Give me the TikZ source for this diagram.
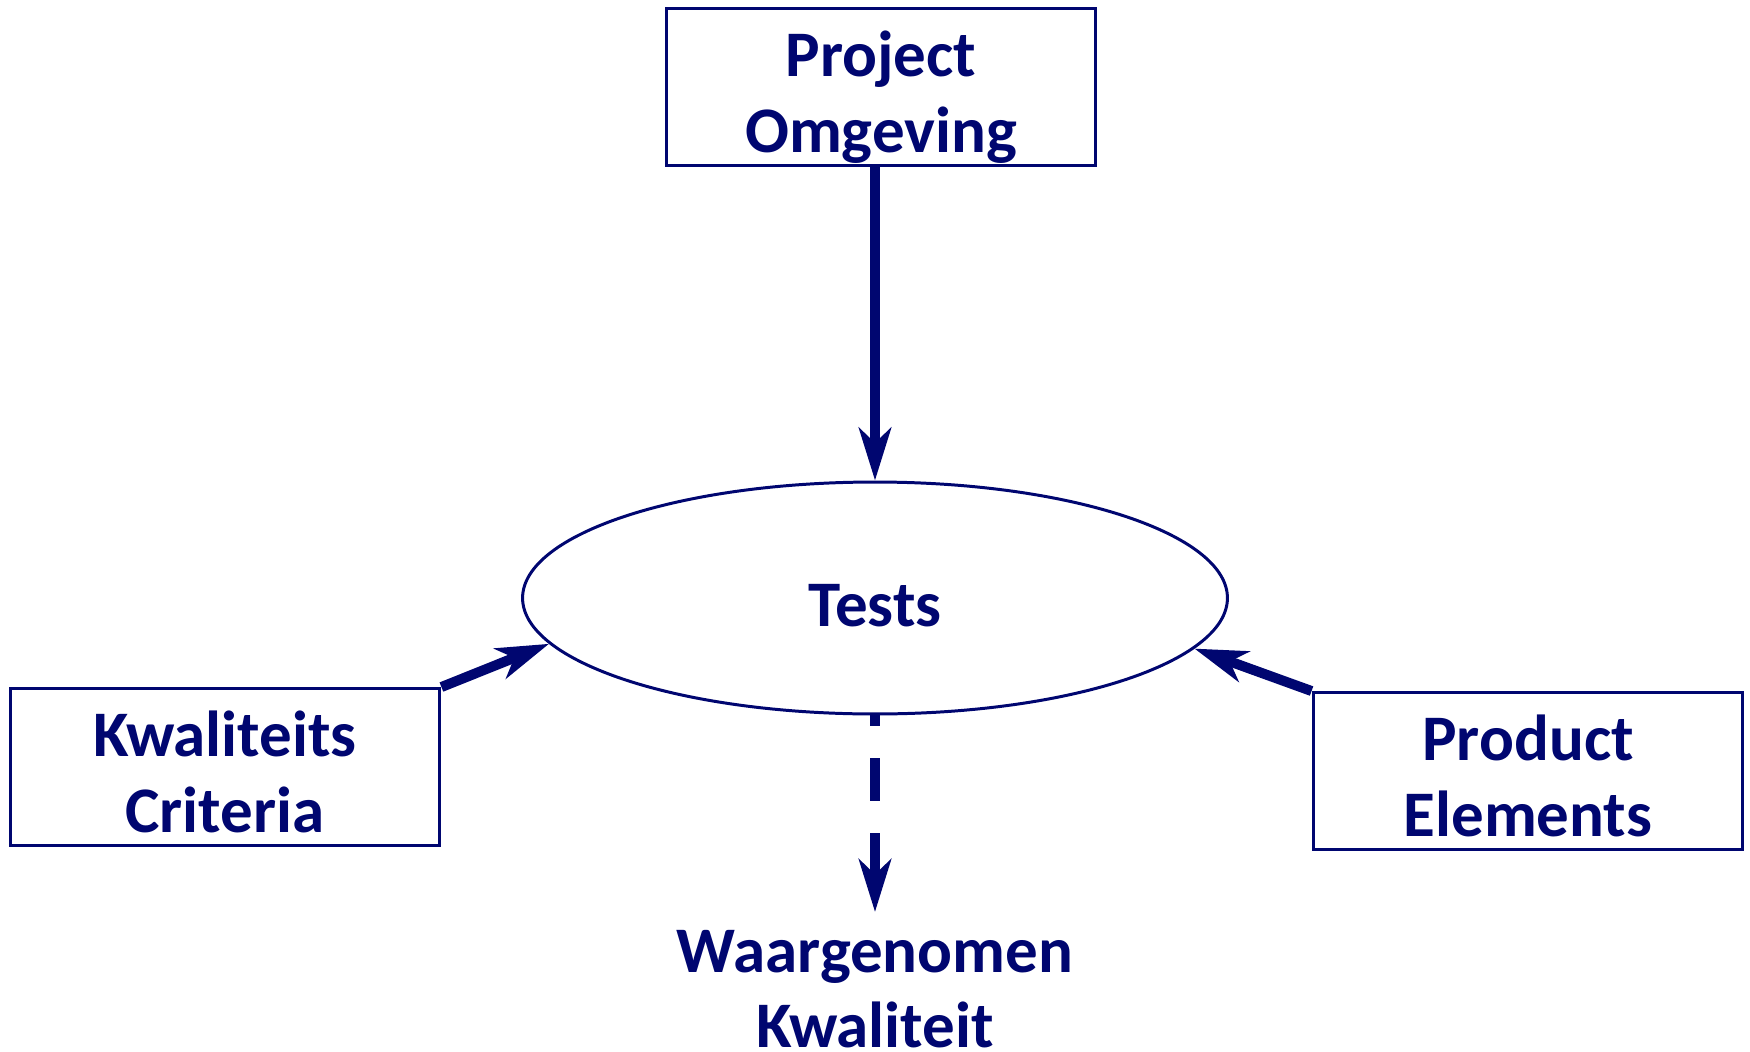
\documentclass[tikz,border=0pt]{standalone}
\usepackage{fontspec}
\setmainfont{Carlito}
\usetikzlibrary{shapes.geometric,arrows.meta}
\definecolor{navy}{RGB}{0,6,112}
\begin{document}
\begin{tikzpicture}[x=0.02cm, y=-0.02cm,
	box/.style = {draw=navy, line width=1.7pt, minimum width=8.6cm, minimum height=3.14cm},
	txt/.style = {text=navy, font=\fontsize{37}{43}\selectfont\bfseries},
	twee/.style = {txt, align=center, text height=76pt, text depth=2pt},
	pijl/.style = {draw=navy, line width=0.2cm, -{Stealth[length=1.05cm, width=0.64cm, inset=0.3cm]}}]
	\useasboundingbox (0,0) rectangle (1750,1051);
	\node[box, twee] (proj) at (881,87) {Project\\Omgeving};
	\node[box, twee] (kwal) at (225,767) {Kwaliteits\\Criteria};
	\node[box, twee] (prod) at (1528,771) {Product\\Elements};
	\node[draw=navy, line width=1.7pt, ellipse, minimum width=14.1cm, minimum height=4.64cm, inner sep=0, txt, text height=36pt, text depth=4pt] (tests) at (875,598) {Tests};
	\node[twee, anchor=north, inner sep=0] (waar) at (875,914) {Waargenomen\\Kwaliteit};
	
	\draw[pijl] (tests.north |- proj.south) -- (tests.north);
	\draw[pijl] (kwal.north east) -- (tests.188);
	\draw[pijl] (prod.north west) -- (tests.351);
	\draw[pijl, dash pattern=on 0.86cm off 0.64cm, dash phase=0.64cm] (tests.south) -- ([yshift=0.04cm]waar.north);
\end{tikzpicture}
\end{document}
